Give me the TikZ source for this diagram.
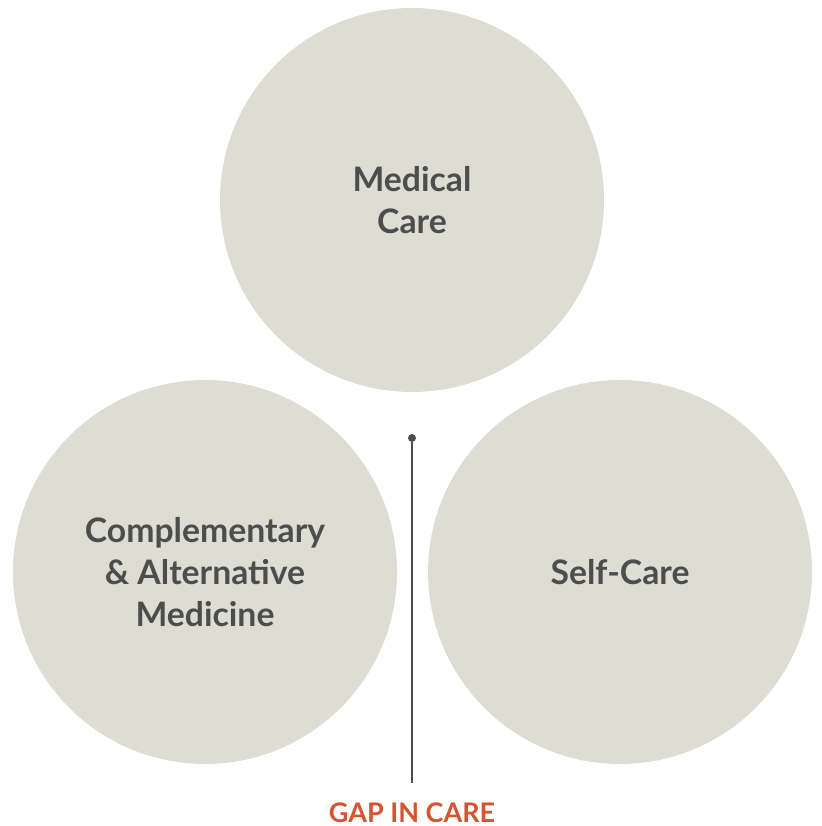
\documentclass[tikz,border=0pt]{standalone}
\usepackage{fontspec}
\setmainfont{Lato}
\usepackage{tikz}
\definecolor{circfill}{HTML}{DEDDD4}
\definecolor{textgray}{HTML}{4D4D4D}
\definecolor{gaporange}{HTML}{D9532E}

\begin{document}
\begin{tikzpicture}
\useasboundingbox (0,0) rectangle (20.525,20.65);
\tikzset{care/.style={circle, fill=circfill, minimum size=9.6cm, align=center,
  text=textgray, font=\fontsize{24}{30}\selectfont\bfseries}}
\node[care] (med) at (10.3,15.65) {Medical\\Care};
\node[care] (cam) at (5.125,6.35) {Complementary\\\& Alternative\\Medicine};
\node[care] (self) at (15.5,6.35) {Self-Care};
\node[circle, fill=textgray, inner sep=0pt, minimum size=0.2cm] (dot) at (10.3,9.7) {};
\coordinate (gapend) at (10.3,1.075);
\node[text=gaporange, inner sep=0pt, font=\fontsize{19.2}{22}\selectfont\bfseries] (gap) at (10.3,0.34) {GAP IN CARE};
\draw [line width=1.4pt, textgray] (dot) -- (gapend);
\end{tikzpicture}
\end{document}
